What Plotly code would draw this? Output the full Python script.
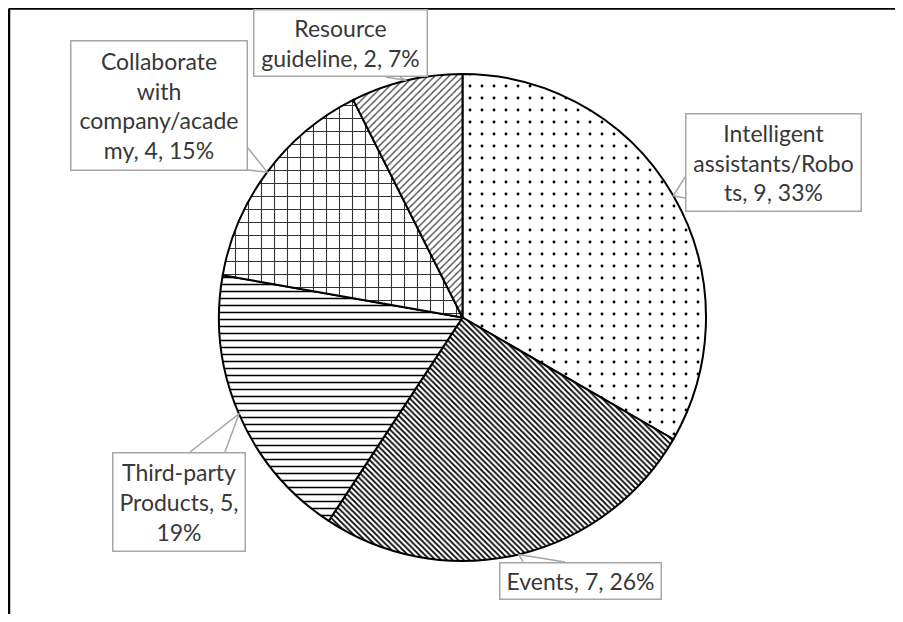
import math
import plotly.graph_objects as go

# ---- data ----
categories = ["Intelligent assistants/Robots", "Events", "Third-party Products",
              "Collaborate with company/academy", "Resource guideline"]
values = [9, 7, 5, 4, 2]
# label text as wrapped in the chart
wrapped_names = ["Intelligent<br>assistants/Robo<br>ts", "Events", "Third-party<br>Products",
                 "Collaborate<br>with<br>company/acade<br>my", "Resource<br>guideline"]
pct_sep = [", ", ", ", ",<br>", ", ", ", "]

# page body has an 8px margin; the figure is placed at (8, 8) in the window
OFF = 8
W, H = 903 - 2 * OFF, 622 - 2 * OFF

def px(x):
    return (x - OFF) / W

def py(y):
    return 1 - (y - OFF) / H

# pie geometry (window pixels)
CX, CY, R = 462.5, 317.5, 243.5

patterns = [
    dict(shape=".", size=12, solidity=0.045, fgcolor="black"),
    dict(shape="\\", size=4, solidity=0.45, fgcolor="black"),
    dict(shape="-", size=7, solidity=0.22, fgcolor="black"),
    dict(shape="+", size=13, solidity=0.16, fgcolor="#333333"),
    dict(shape="/", size=5, solidity=0.26, fgcolor="#444444"),
]

fig = go.Figure(go.Pie(
    labels=categories, values=values, sort=False, direction="clockwise", rotation=0,
    textinfo="none", hoverinfo="skip", showlegend=False,
    marker=dict(colors=["white"] * 5, line=dict(color="black", width=2),
                pattern=dict(shape=[p["shape"] for p in patterns],
                             size=[p["size"] for p in patterns],
                             solidity=[p["solidity"] for p in patterns],
                             fgcolor=[p["fgcolor"] for p in patterns],
                             bgcolor="white", fillmode="replace")),
    domain=dict(x=[px(CX - R), px(CX + R)], y=[py(CY + R), py(CY - R)]),
))

# label boxes (window pixels: x0, y0, x1, y1) and wedge base points on the box edge
boxes = [
    (685, 113, 862, 212),
    (499, 562, 662, 600),
    (112, 452, 246, 552),
    (70, 40, 248, 171),
    (253, 9, 428, 77),
]
wedge_base = [
    ((685, 177), (685, 198)),
    ((523, 562), (565, 562)),
    ((190, 452), (225, 452)),
    ((248, 148), (248, 170)),
    ((386, 77), (400, 77)),
]

total = sum(values)
cum = 0
shapes = []
annotations = []
for i, v in enumerate(values):
    mid = (cum + v / 2) / total * 2 * math.pi
    cum += v
    ax = CX + R * math.sin(mid)
    ay = CY - R * math.cos(mid)
    pct = round(v / total * 100)
    text = f"{wrapped_names[i]}, {v}{pct_sep[i]}{pct}%"
    x0, y0, x1, y1 = boxes[i]
    (b1x, b1y), (b2x, b2y) = wedge_base[i]
    shapes.append(dict(type="path", xref="paper", yref="paper",
                       path=f"M {px(b1x)},{py(b1y)} L {px(ax)},{py(ay)} L {px(b2x)},{py(b2y)}",
                       line=dict(color="#a6a6a6", width=1.5), fillcolor="white", layer="above"))
    annotations.append(dict(xref="paper", yref="paper", x=px((x0 + x1) / 2), y=py((y0 + y1) / 2),
                            xanchor="center", yanchor="middle", showarrow=False, text=text,
                            width=x1 - x0 - 3, height=y1 - y0 - 3, borderpad=0,
                            bordercolor="#a6a6a6", borderwidth=1.5, bgcolor="white",
                            align="center", valign="middle",
                            font=dict(family="Lato", size=23, color="#383838")))

# outer frame (top and left edges are visible in the crop)
shapes += [
    dict(type="line", xref="paper", yref="paper", x0=px(9), x1=1.0, y0=py(8.5), y1=py(8.5),
         line=dict(color="black", width=2.5)),
    dict(type="line", xref="paper", yref="paper", x0=px(9), x1=px(9), y0=py(8.5), y1=0.0,
         line=dict(color="black", width=2.5)),
]

fig.update_layout(width=W, height=H, margin=dict(l=0, r=0, t=0, b=0),
                  paper_bgcolor="white", plot_bgcolor="white",
                  shapes=shapes, annotations=annotations)

fig.write_html("out.html")
